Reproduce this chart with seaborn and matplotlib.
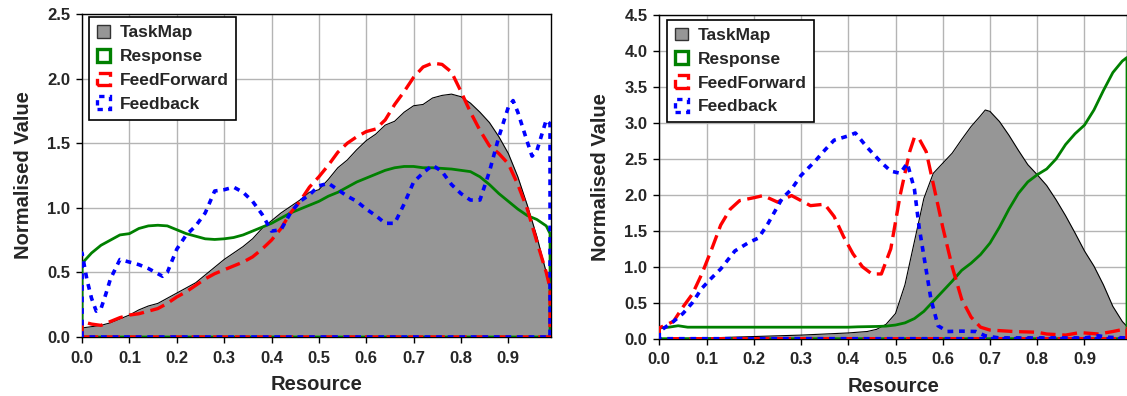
import matplotlib
matplotlib.use("Agg")
import matplotlib.pyplot as plt
from matplotlib.patches import Patch
import seaborn as sns
import numpy as np

# ---------------- data: left panel ----------------
tm_l_x = [0.00, 0.02, 0.04, 0.06, 0.08, 0.10, 0.12, 0.14, 0.16, 0.18, 0.20, 0.22, 0.24,
          0.26, 0.28, 0.30, 0.32, 0.34, 0.36, 0.38, 0.40, 0.42, 0.44, 0.46, 0.48, 0.50,
          0.52, 0.54, 0.56, 0.58, 0.60, 0.62, 0.64, 0.66, 0.68, 0.70, 0.72, 0.74, 0.76,
          0.78, 0.80, 0.82, 0.84, 0.86, 0.88, 0.90, 0.92, 0.94, 0.96, 0.98, 0.987]
tm_l_y = [0.07, 0.08, 0.09, 0.11, 0.14, 0.17, 0.21, 0.24, 0.26, 0.30, 0.34, 0.38, 0.42,
          0.48, 0.54, 0.60, 0.65, 0.70, 0.76, 0.84, 0.90, 0.96, 1.01, 1.06, 1.12, 1.14,
          1.22, 1.31, 1.37, 1.45, 1.52, 1.57, 1.64, 1.67, 1.74, 1.79, 1.80, 1.85, 1.87,
          1.88, 1.86, 1.81, 1.74, 1.66, 1.55, 1.42, 1.24, 1.02, 0.78, 0.50, 0.40]

rs_l_x = [0.00, 0.02, 0.04, 0.06, 0.08, 0.10, 0.12, 0.14, 0.16, 0.18, 0.20, 0.22, 0.24,
          0.26, 0.28, 0.30, 0.32, 0.34, 0.36, 0.38, 0.40, 0.42, 0.44, 0.46, 0.48, 0.50,
          0.52, 0.54, 0.56, 0.58, 0.60, 0.62, 0.64, 0.66, 0.68, 0.70, 0.72, 0.74, 0.76,
          0.78, 0.80, 0.82, 0.84, 0.86, 0.88, 0.90, 0.92, 0.94, 0.96, 0.98, 0.988]
rs_l_y = [0.57, 0.65, 0.71, 0.75, 0.79, 0.80, 0.84, 0.86, 0.865, 0.86, 0.83, 0.80, 0.78,
          0.76, 0.755, 0.76, 0.77, 0.79, 0.82, 0.85, 0.88, 0.92, 0.96, 0.99, 1.02, 1.05,
          1.09, 1.12, 1.16, 1.20, 1.23, 1.26, 1.29, 1.31, 1.32, 1.32, 1.31, 1.31, 1.305,
          1.30, 1.29, 1.28, 1.24, 1.18, 1.11, 1.05, 0.99, 0.94, 0.91, 0.86, 0.80]

ff_l_x = [0.00, 0.02, 0.04, 0.06, 0.08, 0.10, 0.12, 0.14, 0.16, 0.18, 0.20, 0.22, 0.24,
          0.26, 0.28, 0.30, 0.32, 0.34, 0.36, 0.38, 0.40, 0.42, 0.44, 0.46, 0.48, 0.50,
          0.52, 0.54, 0.56, 0.58, 0.60, 0.62, 0.64, 0.66, 0.68, 0.70, 0.72, 0.74, 0.76,
          0.78, 0.80, 0.82, 0.84, 0.86, 0.88, 0.90, 0.92, 0.94, 0.96, 0.98, 0.988]
ff_l_y = [0.12, 0.10, 0.09, 0.12, 0.15, 0.17, 0.18, 0.20, 0.22, 0.26, 0.31, 0.35, 0.40,
          0.45, 0.49, 0.52, 0.55, 0.58, 0.62, 0.68, 0.75, 0.84, 0.96, 1.05, 1.16, 1.24,
          1.33, 1.43, 1.50, 1.55, 1.59, 1.61, 1.68, 1.80, 1.90, 2.01, 2.09, 2.12, 2.11,
          2.05, 1.90, 1.74, 1.60, 1.48, 1.42, 1.34, 1.18, 0.99, 0.74, 0.50, 0.38]

fb_l_x = [0.00, 0.01, 0.02, 0.03, 0.04, 0.05, 0.06, 0.08, 0.10, 0.12, 0.14, 0.16, 0.17,
          0.18, 0.20, 0.22, 0.24, 0.26, 0.28, 0.30, 0.32, 0.34, 0.36, 0.38, 0.40, 0.42,
          0.44, 0.46, 0.48, 0.50, 0.52, 0.54, 0.56, 0.58, 0.60, 0.62, 0.64, 0.66, 0.68,
          0.70, 0.72, 0.74, 0.76, 0.78, 0.80, 0.82, 0.84, 0.86, 0.88, 0.90, 0.91, 0.92,
          0.94, 0.95, 0.96, 0.98, 0.988]
fb_l_y = [0.65, 0.45, 0.30, 0.20, 0.22, 0.33, 0.45, 0.60, 0.58, 0.56, 0.53, 0.49, 0.47,
          0.50, 0.68, 0.79, 0.86, 0.96, 1.13, 1.14, 1.16, 1.12, 1.05, 0.95, 0.82, 0.83,
          0.96, 1.05, 1.10, 1.17, 1.19, 1.14, 1.09, 1.05, 0.99, 0.94, 0.88, 0.88, 1.03,
          1.20, 1.27, 1.33, 1.28, 1.18, 1.11, 1.06, 1.06, 1.28, 1.55, 1.78, 1.83, 1.74,
          1.51, 1.40, 1.44, 1.68, 1.65]

# ---------------- data: right panel ----------------
tm_r_x = [0.00, 0.05, 0.10, 0.15, 0.20, 0.25, 0.30, 0.35, 0.40, 0.44, 0.46, 0.48, 0.50,
          0.52, 0.54, 0.56, 0.58, 0.60, 0.62, 0.64, 0.66, 0.68, 0.69, 0.70, 0.72, 0.74,
          0.76, 0.78, 0.80, 0.82, 0.84, 0.86, 0.88, 0.90, 0.92, 0.94, 0.96, 0.98, 0.99]
tm_r_y = [0.00, 0.005, 0.01, 0.02, 0.03, 0.04, 0.05, 0.065, 0.08, 0.10, 0.13, 0.20, 0.35,
          0.75, 1.35, 1.95, 2.30, 2.44, 2.58, 2.77, 2.95, 3.10, 3.18, 3.16, 3.02, 2.83,
          2.62, 2.42, 2.28, 2.13, 1.93, 1.71, 1.47, 1.22, 1.01, 0.75, 0.45, 0.24, 0.17]

rs_r_x = [0.00, 0.02, 0.04, 0.06, 0.10, 0.20, 0.30, 0.40, 0.42, 0.46, 0.48, 0.50, 0.52,
          0.54, 0.56, 0.58, 0.60, 0.62, 0.64, 0.66, 0.68, 0.70, 0.72, 0.74, 0.76, 0.78,
          0.80, 0.82, 0.84, 0.86, 0.88, 0.90, 0.92, 0.94, 0.96, 0.98, 0.99]
rs_r_y = [0.15, 0.16, 0.18, 0.16, 0.16, 0.16, 0.16, 0.16, 0.165, 0.17, 0.175, 0.19, 0.22,
          0.28, 0.38, 0.52, 0.66, 0.80, 0.95, 1.05, 1.17, 1.33, 1.55, 1.80, 2.02, 2.18,
          2.28, 2.36, 2.50, 2.70, 2.85, 2.97, 3.18, 3.45, 3.70, 3.86, 3.91]

ff_r_x = [0.00, 0.03, 0.05, 0.07, 0.09, 0.11, 0.13, 0.15, 0.17, 0.20, 0.22, 0.25, 0.28,
          0.30, 0.32, 0.35, 0.37, 0.39, 0.41, 0.43, 0.45, 0.47, 0.49, 0.51, 0.53, 0.54,
          0.55, 0.565, 0.58, 0.60, 0.62, 0.64, 0.66, 0.68, 0.70, 0.75, 0.80, 0.82, 0.86,
          0.89, 0.93, 0.96, 0.99]
ff_r_y = [0.15, 0.24, 0.44, 0.62, 0.90, 1.23, 1.58, 1.80, 1.92, 1.96, 1.99, 1.90, 1.99,
          1.92, 1.85, 1.87, 1.70, 1.42, 1.18, 1.00, 0.90, 0.90, 1.25, 2.00, 2.60, 2.80,
          2.78, 2.60, 2.15, 1.55, 1.00, 0.55, 0.30, 0.16, 0.12, 0.10, 0.09, 0.065, 0.05,
          0.085, 0.065, 0.10, 0.14]

fb_r_x = [0.00, 0.03, 0.05, 0.07, 0.09, 0.11, 0.13, 0.16, 0.19, 0.21, 0.23, 0.26, 0.28,
          0.30, 0.33, 0.35, 0.37, 0.40, 0.415, 0.44, 0.47, 0.49, 0.51, 0.525, 0.54, 0.55,
          0.56, 0.575, 0.59, 0.61, 0.64, 0.67, 0.69, 0.72, 0.80, 0.90, 0.93, 0.95, 0.99]
fb_r_y = [0.10, 0.24, 0.35, 0.50, 0.70, 0.84, 0.97, 1.22, 1.34, 1.40, 1.60, 1.95, 2.08,
          2.27, 2.47, 2.62, 2.76, 2.82, 2.86, 2.66, 2.45, 2.33, 2.30, 2.44, 2.08, 1.55,
          1.15, 0.55, 0.18, 0.10, 0.105, 0.10, 0.04, 0.01, 0.01, 0.01, 0.04, 0.02, 0.01]

series_names = ["TaskMap", "Response", "FeedForward", "Feedback"]

# ---------------- styling ----------------
sns.set_theme(style="white")
plt.rcParams["font.family"] = ["Liberation Sans", "DejaVu Sans"]
plt.rcParams["font.weight"] = "bold"

AREA = "#969696"
GREEN = "#008000"
RED = "#ff0000"
BLUE = "#0000ff"
FF_DASH = (0, (4.5, 2.0))
FB_DASH = (0, (1.6, 1.6))


def closed(xs, ys):
    """Close a series down to the baseline at both ends, Excel-area style."""
    x = [xs[0]] + list(xs) + [xs[-1], xs[0]]
    y = [0.0] + list(ys) + [0.0, 0.0]
    return np.array(x), np.array(y)


def draw_panel(ax, tm, rs, ff, fb, ymax, legend_anchor):
    tx, ty = closed(*tm)
    ax.fill_between(tx[:-1], ty[:-1], 0, color=AREA, linewidth=0, zorder=2)
    sns.lineplot(x=tx[1:-1], y=ty[1:-1], sort=False, estimator=None, ax=ax,
                 color="black", linewidth=0.8, zorder=3)

    for (xs, ys), col, ls, lw in [(rs, GREEN, "-", 2.0),
                                  (ff, RED, FF_DASH, 2.4),
                                  (fb, BLUE, FB_DASH, 2.6)]:
        cx, cy = closed(xs, ys)
        sns.lineplot(x=cx, y=cy, sort=False, estimator=None, ax=ax,
                     color=col, linewidth=lw, linestyle=ls, zorder=4)

    xt = np.arange(0, 0.95, 0.1)
    yt = np.arange(0, ymax + 0.01, 0.5)
    ax.set_xlim(0, 0.99)
    ax.set_ylim(0, ymax)
    ax.set_xticks(xt)
    ax.set_yticks(yt)
    ax.set_xticklabels([f"{v:.1f}" for v in xt])
    ax.set_yticklabels([f"{v:.1f}" for v in yt])
    ax.grid(True, color="#b4b4b4", linewidth=1.0, zorder=0)
    ax.set_axisbelow(True)
    for sp in ax.spines.values():
        sp.set_color("black")
        sp.set_linewidth(1.0)
        sp.set_visible(True)
    ax.tick_params(axis="both", direction="out", length=4.3, width=1, color="black",
                   labelsize=12, bottom=True, left=True)
    ax.tick_params(axis="x", pad=5.5)
    ax.tick_params(axis="y", pad=4.2)
    for lab in ax.get_xticklabels() + ax.get_yticklabels():
        lab.set_fontweight("bold")
    ax.set_xlabel("Resource", fontsize=14.5, fontweight="bold", labelpad=7)
    ax.set_ylabel("Normalised Value", fontsize=14.5, fontweight="bold", labelpad=10)

    handles = [
        Patch(facecolor=AREA, edgecolor="#333333", linewidth=1.0),
        Patch(facecolor="none", edgecolor=GREEN, linewidth=2.4),
        Patch(facecolor="none", edgecolor=RED, linewidth=2.4, linestyle=FF_DASH),
        Patch(facecolor="none", edgecolor=BLUE, linewidth=2.4, linestyle=FB_DASH),
    ]
    leg = ax.legend(handles, series_names, loc="upper left", bbox_to_anchor=legend_anchor,
                    frameon=True, fancybox=False, framealpha=1, edgecolor="black",
                    handlelength=0.75, handleheight=0.75, handletextpad=0.55,
                    labelspacing=0.48, borderpad=0.45, borderaxespad=0,
                    prop={"weight": "bold", "size": 12.5})
    leg.get_frame().set_linewidth(1.2)
    leg.set_zorder(10)


fig = plt.figure(figsize=(11.27, 3.96), dpi=100)
ax1 = fig.add_axes([0.0728, 0.149, 0.4161, 0.8156])
ax2 = fig.add_axes([0.585, 0.1447, 0.415, 0.8173])

draw_panel(ax1, (tm_l_x, tm_l_y), (rs_l_x, rs_l_y), (ff_l_x, ff_l_y), (fb_l_x, fb_l_y),
           2.5, (0.015, 0.99))
draw_panel(ax2, (tm_r_x, tm_r_y), (rs_r_x, rs_r_y), (ff_r_x, ff_r_y), (fb_r_x, fb_r_y),
           4.5, (0.017, 0.985))

fig.savefig("out.png", dpi=100)
